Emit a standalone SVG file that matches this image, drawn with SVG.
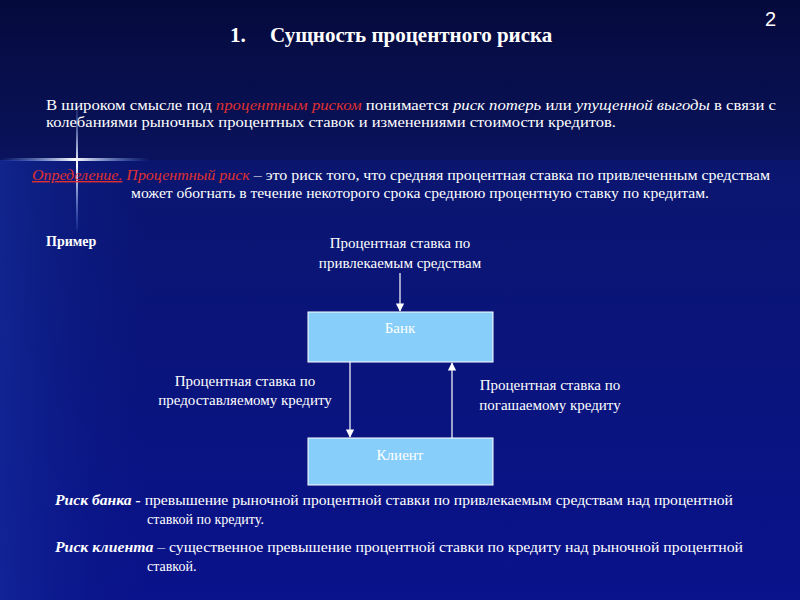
<svg xmlns="http://www.w3.org/2000/svg" width="800" height="600" viewBox="0 0 800 600">
<defs>
<linearGradient id="bg" x1="0" y1="0" x2="0" y2="1">
<stop offset="0" stop-color="#050a3c"/><stop offset="0.3" stop-color="#0a1460"/><stop offset="1" stop-color="#0a0f8a"/>
</linearGradient>
<linearGradient id="side" x1="0" y1="0" x2="1" y2="0">
<stop offset="0" stop-color="#1a3aa8"/><stop offset="1" stop-color="#0c1a80" stop-opacity="0"/>
</linearGradient>
<linearGradient id="hl" x1="0" y1="0" x2="1" y2="0">
<stop offset="0" stop-color="#6aa0ff" stop-opacity="0"/><stop offset="0.5" stop-color="#ffffff"/><stop offset="1" stop-color="#6aa0ff" stop-opacity="0"/>
</linearGradient>
<linearGradient id="vl" x1="0" y1="0" x2="0" y2="1">
<stop offset="0" stop-color="#6aa0ff" stop-opacity="0"/><stop offset="0.5" stop-color="#ffffff"/><stop offset="1" stop-color="#6aa0ff" stop-opacity="0.1"/>
</linearGradient>
<marker id="ah" viewBox="0 0 10 10" refX="9" refY="5" markerWidth="7" markerHeight="7" orient="auto">
<path d="M0,0 L10,5 L0,10 z" fill="#ffffff"/>
</marker>
<style>
text{font-family:"Liberation Serif","Times New Roman",serif;fill:#ffffff;font-size:14px}
.d{font-size:15px}
.b{font-weight:bold}
.i{font-style:italic}
.r{fill:#e03030}
.box{fill:#87cefa;stroke:#ffffff;stroke-width:1}
.con{stroke:#ffffff;stroke-width:1.2;fill:none;marker-end:url(#ah)}
</style>
</defs>
<rect width="800" height="600" fill="url(#bg)"/>
<rect x="0" y="160" width="150" height="440" fill="url(#side)" opacity="0.6"/>
<rect x="0" y="160" width="800" height="440" fill="#0c1a90" opacity="0.35"/>
<rect x="0" y="158" width="150" height="3" fill="url(#hl)"/>
<rect x="76" y="100" width="2" height="130" fill="url(#vl)"/>

<text x="765" y="26" style="font-size:20px;font-family:'Liberation Sans',Arial,sans-serif">2</text>
<text x="230" y="42" class="b" style="font-size:21px">1.</text>
<text x="270" y="42" class="b" style="font-size:21px">Сущность процентного риска</text>

<text x="46" y="110" textLength="730" lengthAdjust="spacingAndGlyphs">В широком смысле под <tspan class="i r">процентным риском</tspan> понимается <tspan class="i">риск потерь</tspan> или <tspan class="i">упущенной выгоды</tspan> в связи с</text>
<text x="46" y="127" textLength="570" lengthAdjust="spacingAndGlyphs">колебаниями рыночных  процентных ставок и изменениями стоимости кредитов.</text>

<text x="32" y="180" textLength="738" lengthAdjust="spacingAndGlyphs"><tspan class="i r" text-decoration="underline">Определение.</tspan><tspan class="i r"> Процентный риск</tspan> – это риск того, что средняя процентная ставка по привлеченным средствам</text>
<text x="131" y="198" textLength="578" lengthAdjust="spacingAndGlyphs">может обогнать в течение некоторого срока среднюю процентную ставку по кредитам.</text>

<text x="46" y="246" class="b">Пример</text>

<g id="top-label">
<text x="400" y="248" text-anchor="middle" class="d">Процентная ставка по</text>
<text x="400" y="268" text-anchor="middle" class="d">привлекаемым средствам</text>
</g>
<g id="bank"><rect class="box" x="308" y="312" width="185" height="50"/><text x="400" y="333" text-anchor="middle" class="d">Банк</text></g>
<g id="client"><rect class="box" x="308" y="438" width="185" height="47"/><text x="400" y="460" text-anchor="middle" class="d">Клиент</text></g>
<g id="left-label">
<text x="245" y="386" text-anchor="middle" class="d">Процентная ставка по</text>
<text x="245" y="405" text-anchor="middle" class="d">предоставляемому кредиту</text>
</g>
<g id="right-label">
<text x="550" y="390" text-anchor="middle" class="d">Процентная ставка по</text>
<text x="550" y="410" text-anchor="middle" class="d">погашаемому кредиту</text>
</g>
<g id="connectors">
<line class="con" x1="400" y1="273" x2="400" y2="311"/>
<line class="con" x1="350" y1="362" x2="350" y2="437"/>
<line class="con" x1="452" y1="438" x2="452" y2="363"/>
</g>

<text x="55" y="505" textLength="678" lengthAdjust="spacingAndGlyphs"><tspan class="b i">Риск банка - </tspan>превышение рыночной процентной ставки по привлекаемым средствам над процентной</text>
<text x="147" y="524">ставкой по кредиту.</text>
<text x="55" y="552" textLength="688" lengthAdjust="spacingAndGlyphs"><tspan class="b i">Риск клиента</tspan> – существенное превышение процентной ставки по кредиту над рыночной процентной</text>
<text x="147" y="571">ставкой.</text>
</svg>
